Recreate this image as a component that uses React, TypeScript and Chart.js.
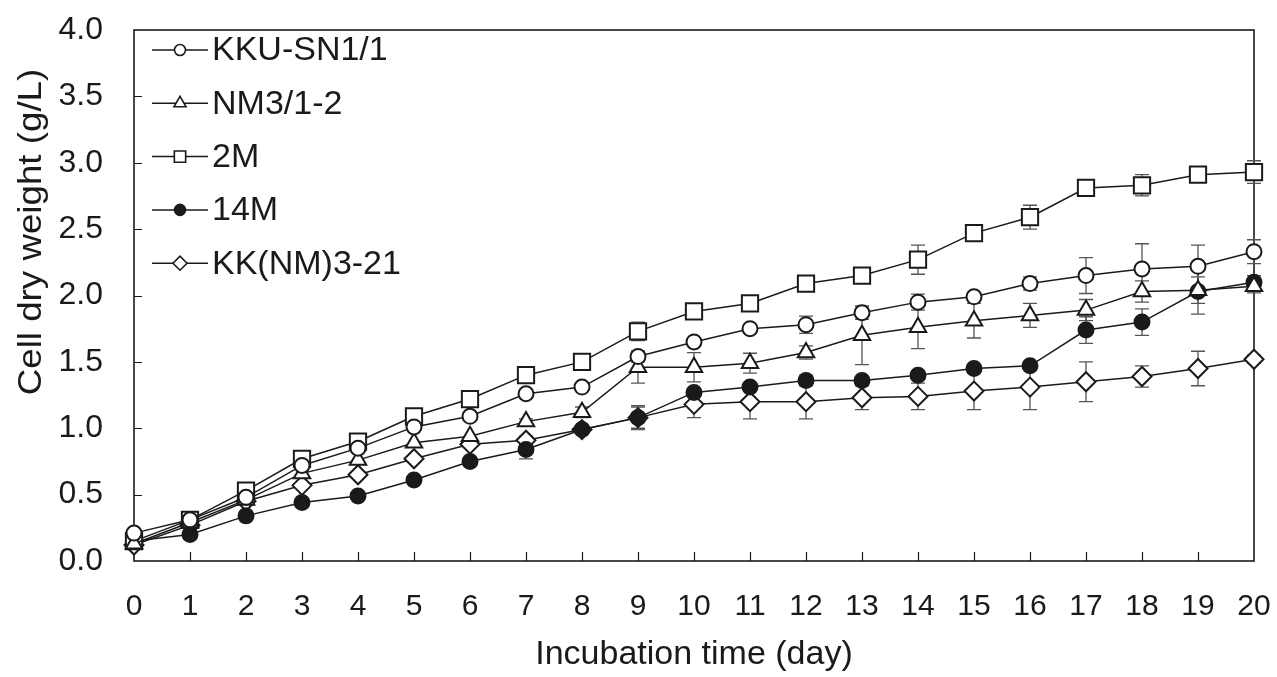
import React, { useEffect, useRef } from "react";
import { Chart, registerables } from "chart.js";
import { drawPoint } from "chart.js/helpers";

Chart.register(...registerables);

const days = ["0","1","2","3","4","5","6","7","8","9","10","11","12","13","14","15","16","17","18","19","20"];

const seriesNames = ["KKU-SN1/1", "NM3/1-2", "2M", "14M", "KK(NM)3-21"];

const kku = [0.21,0.31,0.48,0.72,0.85,1.01,1.09,1.26,1.31,1.54,1.65,1.75,1.78,1.87,1.95,1.99,2.09,2.15,2.20,2.22,2.33];
const nm = [0.13,0.29,0.46,0.66,0.76,0.89,0.94,1.05,1.12,1.46,1.46,1.49,1.57,1.70,1.76,1.81,1.85,1.89,2.03,2.04,2.07];
const m2 = [0.15,0.31,0.53,0.77,0.90,1.09,1.22,1.40,1.50,1.73,1.88,1.94,2.09,2.15,2.27,2.47,2.59,2.81,2.83,2.91,2.93];
const m14 = [0.15,0.20,0.34,0.44,0.49,0.61,0.75,0.84,0.99,1.08,1.27,1.31,1.36,1.36,1.40,1.45,1.47,1.74,1.80,2.03,2.10];
const kkn = [0.12,0.27,0.45,0.57,0.65,0.77,0.88,0.91,0.99,1.08,1.18,1.20,1.20,1.23,1.24,1.28,1.31,1.35,1.39,1.45,1.52];

const kkuErr = [0,0,0,0,0,0,0,0,0.02,0.04,0.02,0.03,0.065,0.05,0.06,0.03,0.05,0.135,0.19,0.16,0.09];
const nmErr = [0,0,0,0,0,0,0,0.02,0.04,0.12,0.11,0.075,0.05,0.22,0.16,0.13,0.09,0.08,0.08,0.1,0.05];
const m2Err = [0,0,0,0,0,0,0,0,0.02,0.07,0.02,0.02,0.03,0.02,0.11,0.02,0.09,0.02,0.08,0.02,0.085];
const m14Err = [0,0,0,0,0,0,0,0.07,0.02,0.08,0.03,0.03,0.04,0.02,0.03,0.02,0.02,0.1,0.1,0.17,0.05];
const kknErr = [0,0,0,0,0,0,0,0.03,0.02,0.09,0.1,0.13,0.13,0.09,0.1,0.14,0.17,0.15,0.08,0.13,0.03];

const FONT = "'Liberation Sans', Arial, sans-serif";
const INK = "#1a1a1a";

const errorBarPlugin = {
  id: "errorBars",
  beforeDatasetsDraw(chart: any) {
    const { ctx, chartArea } = chart;
    const x = chart.scales.x;
    const y = chart.scales.y;
    ctx.save();
    // frame
    ctx.strokeStyle = INK;
    ctx.lineWidth = 1.6;
    ctx.strokeRect(chartArea.left, chartArea.top, chartArea.right - chartArea.left, chartArea.bottom - chartArea.top);
    // inside ticks
    ctx.lineWidth = 1.2;
    ctx.beginPath();
    for (let v = 0.5; v < 4; v += 0.5) {
      const py = Math.round(y.getPixelForValue(v)) + 0.5;
      ctx.moveTo(chartArea.left, py);
      ctx.lineTo(chartArea.left + 8, py);
    }
    for (let i = 1; i < days.length - 1; i++) {
      const px = Math.round(x.getPixelForValue(i)) + 0.5;
      ctx.moveTo(px, chartArea.bottom);
      ctx.lineTo(px, chartArea.bottom - 9);
    }
    ctx.stroke();
    // error bars
    ctx.strokeStyle = "#555";
    ctx.lineWidth = 1.3;
    chart.data.datasets.forEach((ds: any) => {
      const errs: number[] = ds.errors || [];
      ds.data.forEach((val: number, i: number) => {
        const e = errs[i];
        if (!e) return;
        const px = x.getPixelForValue(i);
        const top = y.getPixelForValue(val + e);
        const bot = y.getPixelForValue(val - e);
        ctx.beginPath();
        ctx.moveTo(px, top);
        ctx.lineTo(px, bot);
        ctx.moveTo(px - 7, top);
        ctx.lineTo(px + 7, top);
        ctx.moveTo(px - 7, bot);
        ctx.lineTo(px + 7, bot);
        ctx.stroke();
      });
    });
    ctx.restore();
  },
  afterDraw(chart: any) {
    const { ctx } = chart;
    ctx.save();
    // y axis title
    ctx.fillStyle = INK;
    ctx.font = `34px ${FONT}`;
    ctx.textAlign = "center";
    ctx.textBaseline = "middle";
    ctx.translate(32, 232);
    ctx.rotate(-Math.PI / 2);
    ctx.scale(1.08, 1);
    ctx.fillText("Cell dry weight (g/L)", 0, 0);
    ctx.restore();

    // legend
    ctx.save();
    const startY = 50;
    const step = 53.3;
    chart.data.datasets.forEach((ds: any, i: number) => {
      const cy = startY + i * step;
      ctx.strokeStyle = INK;
      ctx.lineWidth = 1.5;
      ctx.beginPath();
      ctx.moveTo(152, cy);
      ctx.lineTo(208, cy);
      ctx.stroke();
      ctx.fillStyle = ds.pointBackgroundColor;
      ctx.strokeStyle = INK;
      ctx.lineWidth = 1.6;
      drawPoint(ctx, { pointStyle: ds.pointStyle, radius: ds.legendRadius, rotation: 0, borderWidth: 1.6 }, 180, cy);
      ctx.fillStyle = INK;
      ctx.font = `34px ${FONT}`;
      ctx.textAlign = "left";
      ctx.textBaseline = "middle";
      ctx.fillText(ds.label, 212, cy + 1);
    });
    ctx.restore();
  },
};

export default function App() {
  const canvasRef = useRef<HTMLCanvasElement | null>(null);

  useEffect(() => {
    if (!canvasRef.current) return;
    const mk = (label: string, data: number[], errors: number[], style: string, radius: number, legendRadius: number, fill: string) => ({
      label,
      data,
      errors,
      legendRadius,
      borderColor: INK,
      borderWidth: 1.5,
      pointStyle: style,
      pointRadius: radius,
      pointHoverRadius: radius,
      pointBackgroundColor: fill,
      pointBorderColor: INK,
      pointBorderWidth: 2,
      tension: 0,
      fill: false,
      clip: false,
    });
    const chart = new Chart(canvasRef.current, {
      type: "line",
      data: {
        labels: days,
        datasets: [
          mk(seriesNames[0], kku, kkuErr, "circle", 7.5, 5.5, "#ffffff"),
          mk(seriesNames[1], nm, nmErr, "triangle", 9.5, 7, "#ffffff"),
          mk(seriesNames[2], m2, m2Err, "rect", 11.5, 8, "#ffffff"),
          mk(seriesNames[3], m14, m14Err, "circle", 7.5, 5.5, INK),
          mk(seriesNames[4], kkn, kknErr, "rectRot", 9.5, 7, "#ffffff"),
        ] as any,
      },
      options: {
        animation: false,
        responsive: true,
        maintainAspectRatio: false,
        layout: { padding: 0 },
        plugins: { legend: { display: false }, tooltip: { enabled: false } },
        scales: {
          x: {
            type: "category",
            offset: false,
            grid: { display: false, drawTicks: false },
            border: { display: false },
            ticks: { color: INK, font: { family: FONT, size: 30 }, padding: 28, maxRotation: 0, autoSkip: false },
            title: { display: true, text: "Incubation time (day)", color: INK, font: { family: FONT, size: 34 }, padding: { top: 0, bottom: 2 } },
            afterFit: (s: any) => { s.height = 116; s.paddingLeft = 0; s.paddingRight = 23; },
          },
          y: {
            min: 0,
            max: 4,
            grid: { display: false, drawTicks: false },
            border: { display: false },
            ticks: { stepSize: 0.5, color: INK, font: { family: FONT, size: 32 }, padding: 31, callback: (v: any) => Number(v).toFixed(1) },
            afterFit: (s: any) => { s.width = 134; s.paddingTop = 30; s.paddingBottom = 0; },
          },
        },
      } as any,
      plugins: [errorBarPlugin],
    });
    return () => chart.destroy();
  }, []);

  return (
    <div style={{ position: "fixed", left: 0, top: 0, width: 1277, height: 677, background: "#fff" }}>
      <canvas ref={canvasRef} />
    </div>
  );
}
